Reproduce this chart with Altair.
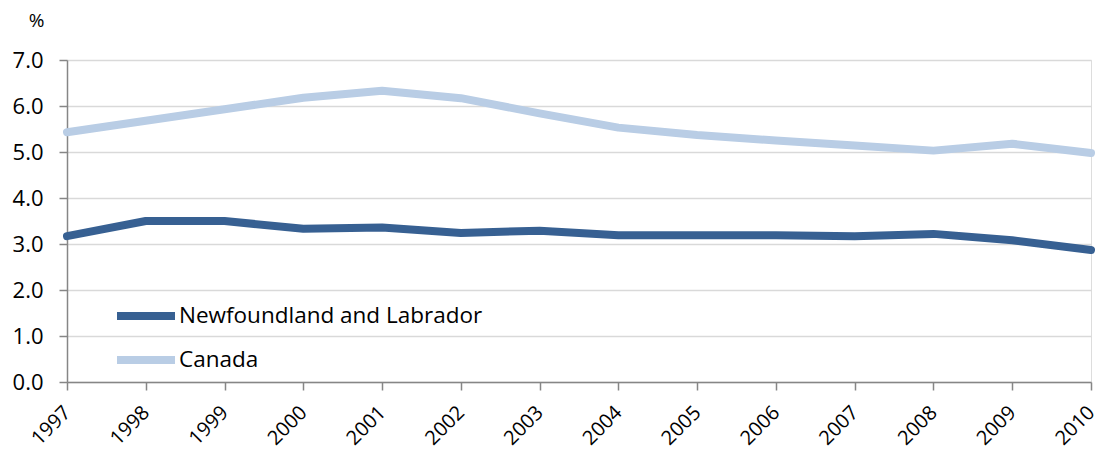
import altair as alt
import pandas as pd

years = list(range(1997, 2011))
nl_values = [3.17, 3.50, 3.50, 3.33, 3.36, 3.24, 3.29, 3.19, 3.19, 3.19, 3.17, 3.22, 3.08, 2.87]
canada_values = [5.43, 5.68, 5.93, 6.18, 6.33, 6.17, 5.84, 5.53, 5.37, 5.25, 5.14, 5.03, 5.18, 4.98]
series_names = ["Newfoundland and Labrador", "Canada"]
series_colors = ["#376092", "#b9cde5"]
y_ticks = [0, 1, 2, 3, 4, 5, 6, 7]

rows = []
for name, vals in zip(series_names, [nl_values, canada_values]):
    for yr, v in zip(years, vals):
        rows.append({"year": yr, "value": v, "series": name})
df = pd.DataFrame(rows)

FONT = "Open Sans"

chart = alt.Chart(df).mark_line(strokeWidth=8, strokeCap="round", strokeJoin="round", clip=False).encode(
    x=alt.X("year:Q",
            scale=alt.Scale(domain=[1997, 2010], nice=False, zero=False),
            axis=alt.Axis(values=years, format="d", title=None, grid=False,
                          labelAngle=-45, labelAlign="right", labelBaseline="top",
                          labelFontSize=20, labelFont=FONT, labelColor="#000000",
                          labelPadding=12, labelOffset=-7, tickSize=8, tickColor="#868686",
                          domainColor="#868686", domainWidth=1.5, tickWidth=1.5,
                          labelOverlap=False, labelFlush=False)),
    y=alt.Y("value:Q",
            scale=alt.Scale(domain=[0, 7], nice=False),
            axis=alt.Axis(values=y_ticks, format=".1f", title="%", titleAngle=0,
                          titleX=-31, titleY=-40, titleAlign="center", titleBaseline="middle",
                          titleFont=FONT, titleFontSize=19, titleFontWeight="normal",
                          titleColor="#000000",
                          labelFontSize=22, labelFont=FONT, labelColor="#000000",
                          labelPadding=16, tickSize=8, tickColor="#868686",
                          domainColor="#868686", domainWidth=1.5, tickWidth=1.5,
                          gridColor="#d9d9d9", gridWidth=1.5)),
    color=alt.Color("series:N",
                    scale=alt.Scale(domain=series_names, range=series_colors),
                    sort=series_names,
                    legend=alt.Legend(title=None, orient="none", legendX=46, legendY=246,
                                      symbolType="stroke", symbolSize=3364, symbolStrokeWidth=8,
                                      clipHeight=20, rowPadding=21, labelOffset=0,
                                      labelFont=FONT, labelFontSize=22.5, labelColor="#000000",
                                      labelLimit=0, padding=0)),
    order=alt.Order("series:N", sort="ascending"),
).properties(
    width=1024, height=322,
    autosize=alt.AutoSizeParams(type="none"),
    padding={"left": 59, "top": 52, "right": 7, "bottom": 68},
).configure_view(stroke=None).configure(background="#ffffff")

chart.save("out.html", embed_options={"renderer": "svg", "actions": False})
